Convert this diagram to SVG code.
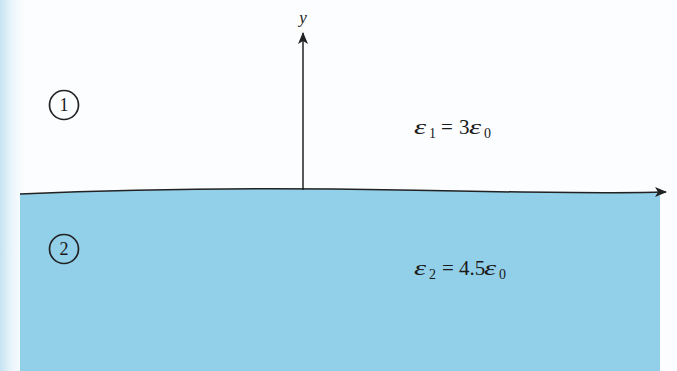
<svg xmlns="http://www.w3.org/2000/svg" width="677" height="371" viewBox="0 0 677 371">
<style>
.t{font-family:"Liberation Serif","Times New Roman",serif;fill:#1a1a1a}
.eq{font-size:21px}
.ep{font-style:italic;font-size:22px}
.sub{font-size:14px}
.ax{stroke:#222;stroke-width:1.5;fill:none}
.circ{fill:none;stroke:#222;stroke-width:1.7}
.num{font-size:18px}
</style>
<defs>
<linearGradient id="edge" x1="0" y1="0" x2="1" y2="0">
<stop offset="0" stop-color="#c4e2f2"/>
<stop offset="1" stop-color="#fbfdfe" stop-opacity="0"/>
</linearGradient>
<marker id="arr" viewBox="0 0 12 10" refX="11" refY="5" markerWidth="12" markerHeight="10" markerUnits="userSpaceOnUse" orient="auto">
<path d="M0,0 L12,5 L0,10 L3,5 Z" fill="#222"/>
</marker>
</defs>
<rect width="677" height="371" fill="#fbfdfe"/>
<rect width="28" height="371" fill="url(#edge)"/>
<g id="region2">
<path d="M20,194 Q200,186 400,190 T660,192 L660,371 L20,371 Z" fill="#92cfe9"/>
</g>
<g id="connectors">
<path class="ax" d="M20,194 Q200,186 400,190 T660,192 L666,192" marker-end="url(#arr)"/>
<line class="ax" x1="303" y1="190" x2="303" y2="33" marker-end="url(#arr)"/>
</g>
<g id="ylabel"><text class="t" x="303" y="23" font-size="17" font-style="italic" text-anchor="middle">y</text></g>
<g id="medium1">
<circle class="circ" cx="64" cy="105" r="14.5"/>
<text class="t num" x="64" y="111" text-anchor="middle">1</text>
</g>
<g id="medium2">
<circle class="circ" cx="64" cy="249" r="14.5"/>
<text class="t num" x="64" y="255" text-anchor="middle">2</text>
</g>
<g id="eps1">
<text class="t ep" transform="translate(414,134) scale(1.4,1)">ε</text>
<text class="t eq" y="134"><tspan class="sub" x="429" y="138">1</tspan><tspan x="441" y="134">=</tspan><tspan x="459">3</tspan></text>
<text class="t ep" transform="translate(469,134) scale(1.4,1)">ε</text>
<text class="t sub" x="484" y="138">0</text>
</g>
<g id="eps2">
<text class="t ep" transform="translate(414,275) scale(1.4,1)">ε</text>
<text class="t eq" y="275"><tspan class="sub" x="429" y="279">2</tspan><tspan x="442" y="275">=</tspan><tspan x="459">4.5</tspan></text>
<text class="t ep" transform="translate(484,275) scale(1.4,1)">ε</text>
<text class="t sub" x="499" y="279">0</text>
</g>
</svg>
